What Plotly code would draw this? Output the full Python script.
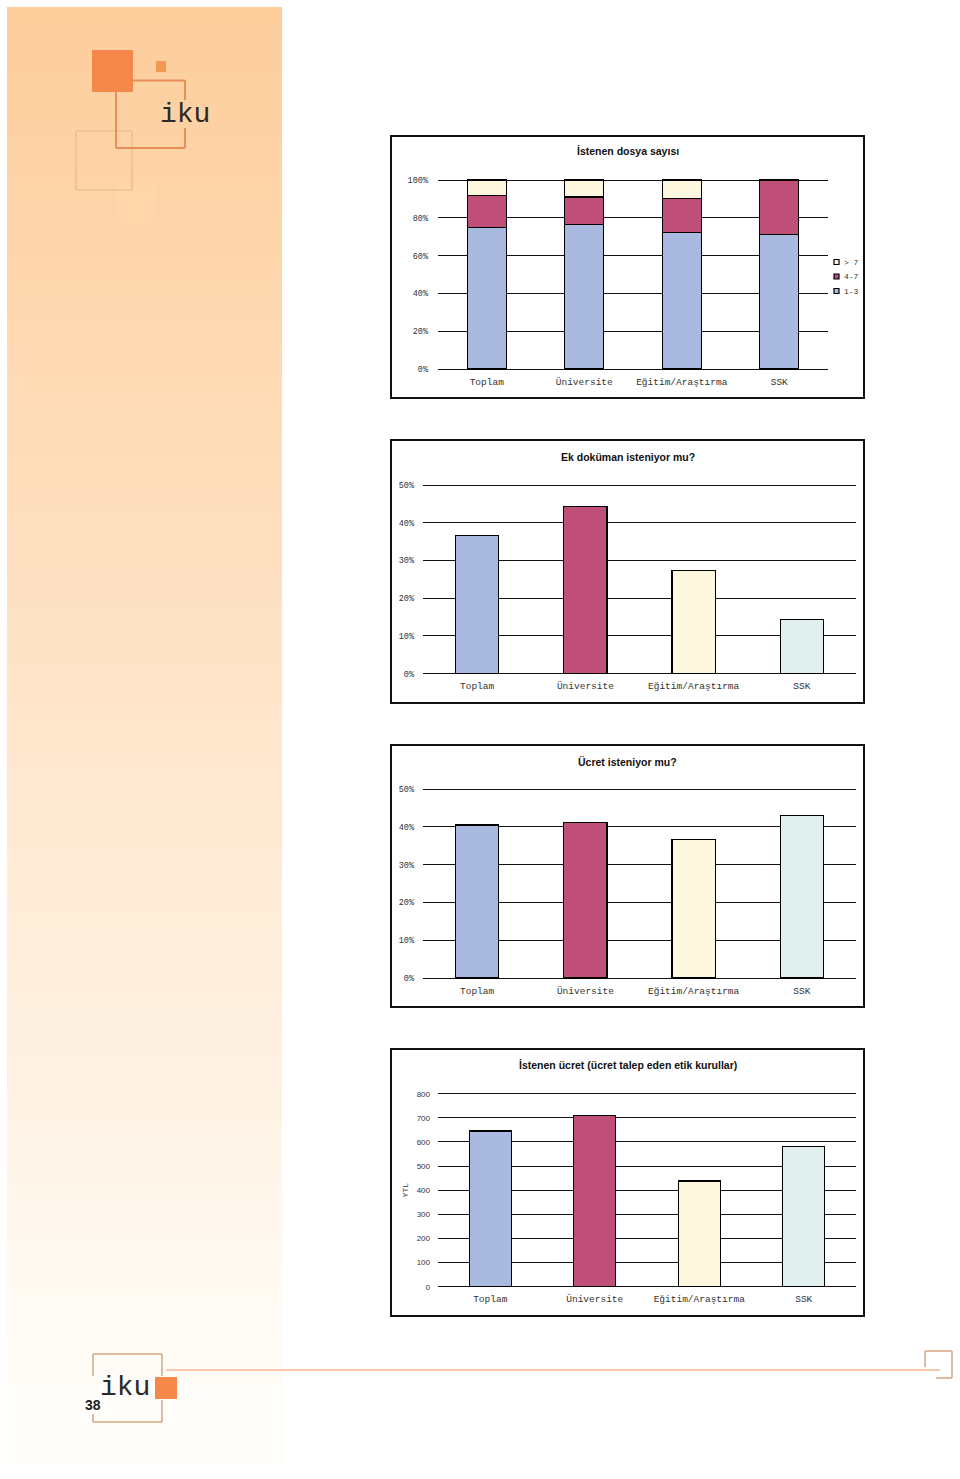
import plotly.graph_objects as go

W, H = 960, 1479

def X(px):
    return px / W

def Y(py):
    return 1 - py / H

# ---------------- data ----------------
categories = ["Toplam", "Üniversite", "Eğitim/Araştırma", "SSK"]

# Chart 1: İstenen dosya sayısı (stacked %)
dosya_series = ["1-3", "4-7", "> 7"]
dosya_13 = [74.7, 76.3, 72.3, 71.1]
dosya_47 = [17.2, 14.7, 18.0, 28.9]
dosya_gt7 = [8.1, 9.0, 9.7, 0.0]

# Chart 2: Ek doküman isteniyor mu? (%)
ek_dokuman = [36.7, 44.4, 27.3, 14.4]

# Chart 3: Ücret isteniyor mu? (%)
ucret_isteniyor = [40.5, 41.2, 36.6, 43.0]

# Chart 4: İstenen ücret (YTL)
istenen_ucret = [645, 710, 438, 580]

pct_ticks_100 = [0, 20, 40, 60, 80, 100]
pct_ticks_50 = [0, 10, 20, 30, 40, 50]
ytl_ticks = [0, 100, 200, 300, 400, 500, 600, 700, 800]

titles = [
    "İstenen dosya sayısı",
    "Ek doküman isteniyor mu?",
    "Ücret isteniyor mu?",
    "İstenen ücret (ücret talep eden etik kurullar)",
]

# ---------------- styles ----------------
C_BLUE = "#AAB9DF"
C_RED = "#BF4E78"
C_CREAM = "#FDF7DD"
C_TEAL = "#E1F0EF"
bar_colors = [C_BLUE, C_RED, C_CREAM, C_TEAL]
MONO = "Liberation Mono, Courier New, monospace"
SANS = "Liberation Sans, Arial, sans-serif"

fig = go.Figure()

# chart 1 stacked
for name, vals, col in [(dosya_series[0], dosya_13, C_BLUE),
                        (dosya_series[1], dosya_47, C_RED),
                        (dosya_series[2], dosya_gt7, C_CREAM)]:
    fig.add_trace(go.Bar(x=categories, y=vals, name=name, xaxis="x", yaxis="y",
                         marker=dict(color=col, line=dict(color="black", width=1.2)),
                         showlegend=False))

fig.add_trace(go.Bar(x=categories, y=ek_dokuman, xaxis="x2", yaxis="y2",
                     marker=dict(color=bar_colors, line=dict(color="black", width=1.2)),
                     showlegend=False))
fig.add_trace(go.Bar(x=categories, y=ucret_isteniyor, xaxis="x3", yaxis="y3",
                     marker=dict(color=bar_colors, line=dict(color="black", width=1.2)),
                     showlegend=False))
fig.add_trace(go.Bar(x=categories, y=istenen_ucret, xaxis="x4", yaxis="y4",
                     marker=dict(color=bar_colors, line=dict(color="black", width=1.2)),
                     showlegend=False))

xfont = dict(family=MONO, size=9.5, color="#333333")
yfont_pct = dict(family=MONO, size=8.5, color="#333333")

def xax(dom, anchor):
    return dict(domain=dom, anchor=anchor, showgrid=False, zeroline=False,
                showline=False, ticks="", tickfont=xfont, fixedrange=True,
                ticklabelstandoff=2)

def yax(py0, pytop, vmax, anchor, tickvals, suffix="", font=yfont_pct, standoff=8):
    # pad the range by 3px so the top and bottom gridlines are drawn
    scale = (py0 - pytop) / vmax
    eps = 3.0 / scale
    dom = [Y(py0 + 3.0), Y(pytop - 3.0)]
    return dict(domain=dom, anchor=anchor, range=[-eps, vmax + eps], tickvals=tickvals,
                ticktext=["%g%s" % (v, suffix) for v in tickvals],
                showgrid=True, gridcolor="#111111", gridwidth=1.3,
                zeroline=False, showline=False, ticks="", tickfont=font,
                fixedrange=True, ticklabelstandoff=standoff)

layout = dict(
    width=W, height=H, margin=dict(l=0, r=0, t=0, b=0, autoexpand=False),
    paper_bgcolor="white", plot_bgcolor="rgba(0,0,0,0)",
    barmode="stack", bargap=0.6, showlegend=False,
    xaxis=xax([X(438), X(828)], "y"),
    yaxis=yax(369, 180, 100, "x", pct_ticks_100, "%", standoff=9),
    xaxis2=xax([X(423), X(856)], "y2"),
    yaxis2=yax(673.7, 485, 50, "x2", pct_ticks_50, "%", standoff=8),
    xaxis3=xax([X(423), X(856)], "y3"),
    yaxis3=yax(978, 789, 50, "x3", pct_ticks_50, "%", standoff=8),
    xaxis4=xax([X(438), X(856)], "y4"),
    yaxis4=yax(1286.7, 1093.7, 800, "x4", ytl_ticks, "",
               font=dict(family=SANS, size=8, color="#333333"), standoff=7),
)
layout["yaxis4"]["title"] = dict(text="YTL", font=dict(family=MONO, size=8, color="#333333"),
                                 standoff=6)
fig.update_layout(**layout)

shapes = []
annotations = []

# left gradient panel
top_c = (253, 205, 155)
bot_c = (255, 253, 249)
y0, y1 = 7, 1465
n = 90
for i in range(n):
    a = y0 + (y1 - y0) * i / n
    b = y0 + (y1 - y0) * (i + 1) / n + 0.8
    t = min(1.0, (i + 0.5) / n * 1.05)
    c = tuple(int(round(top_c[k] + (bot_c[k] - top_c[k]) * t)) for k in range(3))
    shapes.append(dict(type="rect", xref="paper", yref="paper", layer="below",
                       x0=X(7), x1=X(282), y0=Y(min(b, y1)), y1=Y(a),
                       fillcolor="rgb(%d,%d,%d)" % c, line=dict(width=0)))

def line(xa, ya, xb, yb, color, w=1.5):
    shapes.append(dict(type="line", xref="paper", yref="paper", layer="below",
                       x0=X(xa), y0=Y(ya), x1=X(xb), y1=Y(yb),
                       line=dict(color=color, width=w)))

def rect(xa, ya, xb, yb, fill, lc=None, lw=0, layer="below"):
    shapes.append(dict(type="rect", xref="paper", yref="paper", layer=layer,
                       x0=X(xa), y0=Y(yb), x1=X(xb), y1=Y(ya), fillcolor=fill,
                       line=dict(color=lc or fill, width=lw)))

# top logo
rect(115, 185, 156, 226, "#FDD6AA")
L1 = "#E9B88C"
line(76, 131, 132, 131, L1, 1.2)
line(76, 131, 76, 190, L1, 1.2)
line(76, 190, 132, 190, L1, 1.2)
line(132, 131, 132, 190, L1, 1.2)
L2 = "#E58E58"
line(133, 80.5, 185, 80.5, L2, 2)
line(185, 80, 185, 100, L2, 2)
line(185, 128, 185, 148, L2, 2)
line(116, 148, 185, 148, L2, 2)
line(116, 92, 116, 148, L2, 2)
rect(92, 50, 133, 92, "#F4874A")
rect(156, 61, 166, 72, "#F29A52")
annotations.append(dict(text="iku", xref="paper", yref="paper", x=X(185), y=Y(115),
                        xanchor="center", yanchor="middle", showarrow=False,
                        font=dict(family=MONO, size=28, color="#2a2a2a")))

# bottom logo
L3 = "#D9A47E"
line(93, 1354, 162, 1354, L3, 1.5)
line(93, 1354, 93, 1376, L3, 1.5)
line(93, 1414, 93, 1422, L3, 1.5)
line(93, 1422, 162, 1422, L3, 1.5)
line(162, 1354, 162, 1376, L3, 1.5)
line(162, 1400, 162, 1422, L3, 1.5)
L4 = "#F2B890"
line(166, 1370, 940, 1370, L4, 1.5)
line(925, 1351, 952, 1351, L3, 1.5)
line(925, 1351, 925, 1367, L3, 1.5)
line(952, 1351, 952, 1378, L3, 1.5)
line(936, 1378, 952, 1378, L3, 1.5)
rect(155, 1377, 177, 1399, "#F4874A")
annotations.append(dict(text="iku", xref="paper", yref="paper", x=X(125), y=Y(1387),
                        xanchor="center", yanchor="middle", showarrow=False,
                        font=dict(family=MONO, size=28, color="#2a2a2a")))
annotations.append(dict(text="<b>38</b>", xref="paper", yref="paper", x=X(93), y=Y(1405),
                        xanchor="center", yanchor="middle", showarrow=False,
                        font=dict(family="Liberation Sans Narrow, Liberation Sans, Arial", size=14,
                                  color="#222222")))

# chart boxes and titles
boxes = [(136, 398, 151), (440, 703, 457), (745, 1007, 762), (1049, 1316, 1065)]
for (ya, yb, ty), title in zip(boxes, titles):
    shapes.append(dict(type="rect", xref="paper", yref="paper", layer="above",
                       x0=X(391), x1=X(864), y0=Y(yb), y1=Y(ya),
                       line=dict(color="#111111", width=2), fillcolor="rgba(0,0,0,0)"))
    annotations.append(dict(text="<b>%s</b>" % title, xref="paper", yref="paper",
                            x=X(627.5), y=Y(ty), xanchor="center", yanchor="middle",
                            showarrow=False, font=dict(family=SANS, size=10.5, color="#111111")))

# manual legend for chart 1 (top: >7, 4-7, 1-3)
leg_y = [262, 276.5, 291]
leg_items = list(zip([dosya_series[2], dosya_series[1], dosya_series[0]],
                     [C_CREAM, C_RED, C_BLUE]))
for (name, col), yy in zip(leg_items, leg_y):
    shapes.append(dict(type="rect", xref="paper", yref="paper", layer="above",
                       x0=X(834), x1=X(839), y0=Y(yy + 2.5), y1=Y(yy - 2.5),
                       fillcolor=col, line=dict(color="black", width=1.2)))
    annotations.append(dict(text=name, xref="paper", yref="paper", x=X(842), y=Y(yy),
                            xanchor="left", yanchor="middle", showarrow=False,
                            font=dict(family=MONO, size=8, color="#333333")))

fig.update_layout(shapes=shapes, annotations=annotations)

post = (
    "var s=document.createElement('style');"
    "s.innerHTML='html,body{margin:0!important;padding:0!important;height:1479px;"
    "overflow:hidden;} body>div{line-height:0;height:1479px;overflow:hidden;}"
    " .plotly-graph-div,.svg-container{display:block!important;}';"
    "document.head.appendChild(s);"
)
fig.write_html("out.html", config={"displayModeBar": False}, post_script=post)
